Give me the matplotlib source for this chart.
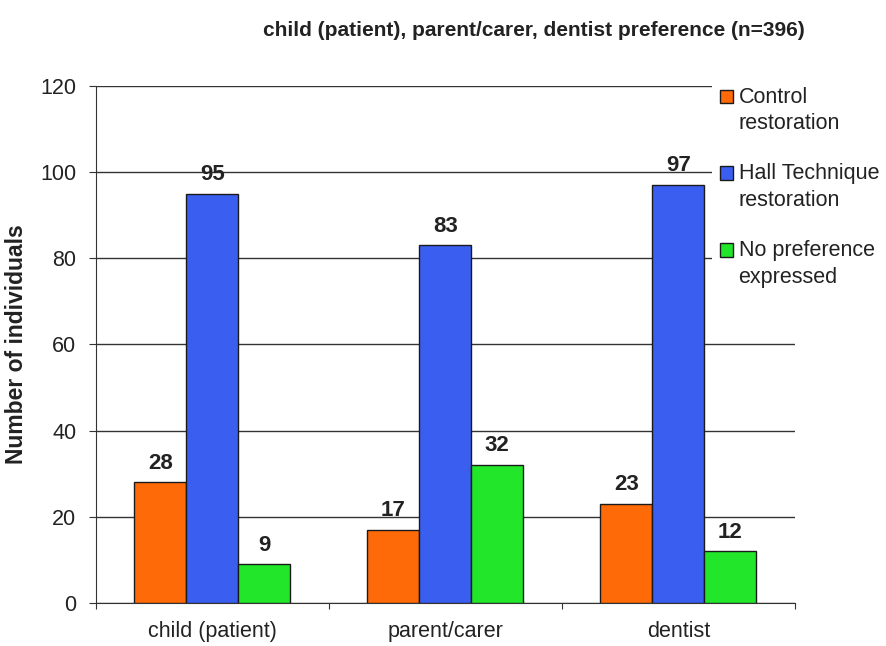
import numpy as np
import matplotlib.pyplot as plt
from matplotlib.patches import Rectangle
from matplotlib.legend_handler import HandlerPatch

plt.rcParams["font.family"] = ["Liberation Sans", "DejaVu Sans"]

groups = ["child (patient)", "parent/carer", "dentist"]
series_names = ["Control\nrestoration", "Hall Technique\nrestoration", "No preference\nexpressed"]
control = [28, 17, 23]
hall = [95, 83, 97]
no_pref = [9, 32, 12]

colors = ["#ff6a08", "#3a5ff0", "#22e62a"]

LEG_FS = 15.5
LEG_LS = 1.35

fig = plt.figure(figsize=(8.87, 6.46), dpi=100)
ax = fig.add_axes([0.108, 0.0666, 0.788, 0.8004])

x = np.arange(len(groups))
w = 0.223
handles = []
for i, (vals, c) in enumerate(zip([control, hall, no_pref], colors)):
    b = ax.bar(x + (i - 1) * w, vals, w, color=c, edgecolor="#1a1a1a", linewidth=1.0,
               zorder=3)
    handles.append(b[0])
    for xi, v in zip(x + (i - 1) * w, vals):
        ax.text(xi, v + 2.0, str(v), ha="center", va="bottom", fontsize=16,
                fontweight="bold", color="#222222")

ax.set_xlim(-0.5, 2.5)
ax.set_ylim(0, 120)
ax.set_yticks(range(0, 121, 20))
ax.yaxis.grid(True, color="#333333", linewidth=1.0)
ax.set_axisbelow(True)

ax.set_xticks([-0.5, 0.5, 1.5, 2.5])
ax.set_xticklabels([])
ax.set_xticks(x, minor=True)
ax.set_xticklabels(groups, minor=True, fontsize=15.5, color="#222222")
ax.tick_params(axis="x", which="minor", length=0, pad=13)
ax.tick_params(axis="x", which="major", length=4, direction="out", color="#333333")
ax.tick_params(axis="y", length=5, direction="out", labelsize=15.5, pad=9,
               color="#333333", labelcolor="#222222")

for s in ["top", "right"]:
    ax.spines[s].set_visible(False)
ax.spines["left"].set_color("#333333")
ax.spines["bottom"].set_color("#333333")

ax.set_ylabel("Number of individuals", fontsize=16.5, fontweight="bold", labelpad=9,
              color="#222222")

fig.text(0.602, 0.953, "child (patient), parent/carer, dentist preference (n=396)",
         ha="center", va="center", fontsize=15, fontweight="bold", color="#222222")


# legend squares sit next to the first line of each label
def top_square(legend, orig_handle, xdescent, ydescent, width, height, fontsize):
    shift = 0.5 * LEG_LS * fontsize
    return Rectangle((-xdescent, -ydescent + shift), width, height)


leg = fig.legend(handles, series_names, loc="upper left", bbox_to_anchor=(0.803, 0.878),
                 frameon=True, facecolor="white", edgecolor="none", framealpha=1,
                 fancybox=False, fontsize=LEG_FS, handlelength=0.6, handleheight=0.6,
                 handletextpad=0.25, labelspacing=1.35, borderaxespad=0, borderpad=0.37,
                 handler_map={Rectangle: HandlerPatch(patch_func=top_square)})
for t in leg.get_texts():
    t.set_linespacing(LEG_LS)
    t.set_color("#222222")

fig.savefig("out.png", dpi=100)
